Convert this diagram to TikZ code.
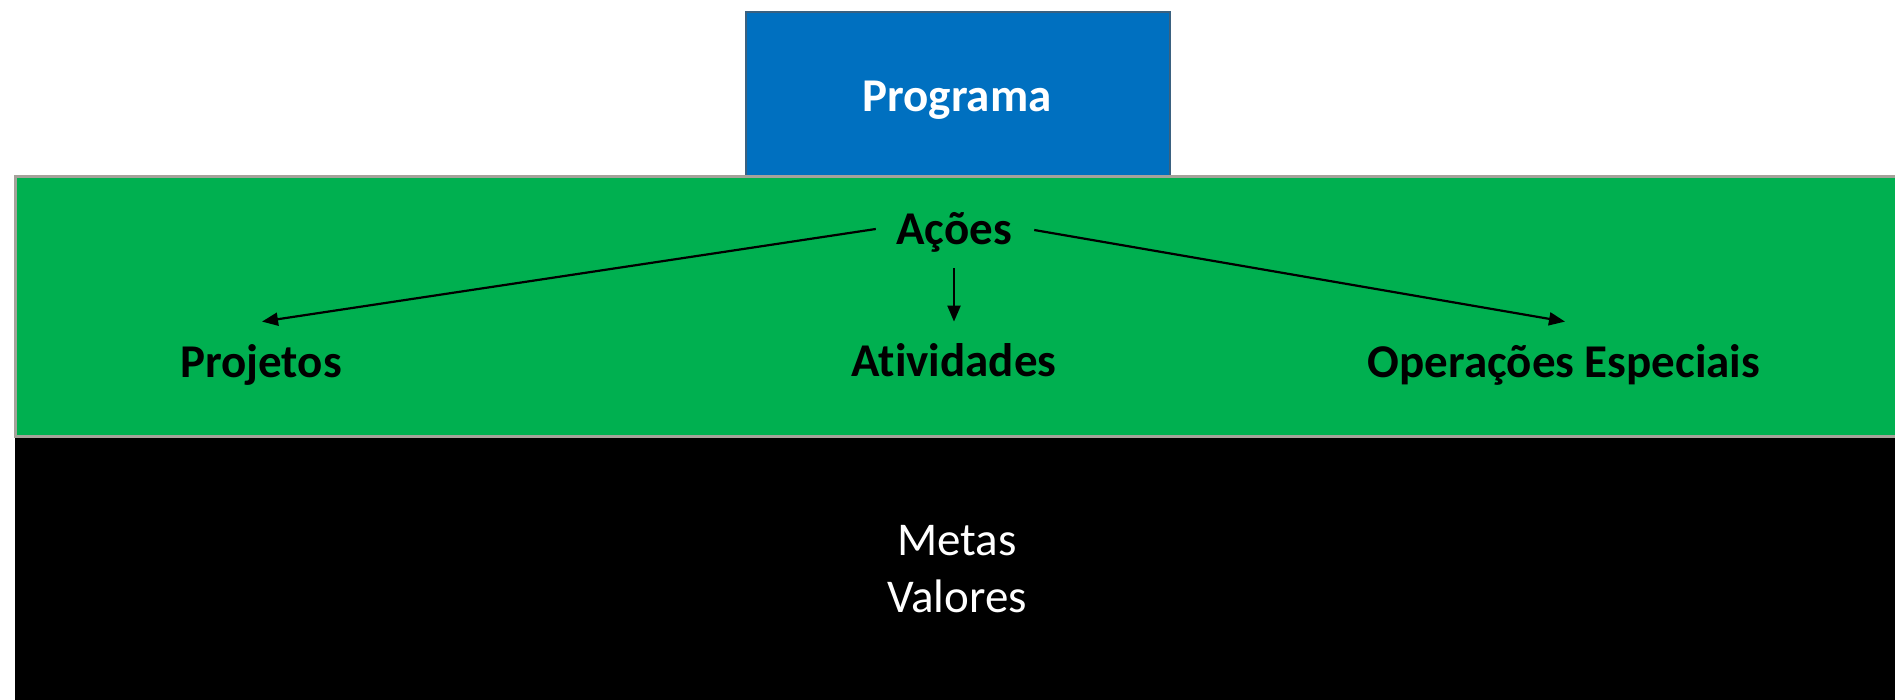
\documentclass[tikz,border=0pt]{standalone}
\usepackage{fontspec}
\setmainfont{Carlito}[Ligatures=NoCommon]
\usetikzlibrary{arrows.meta}
\definecolor{progblue}{HTML}{0070C0}
\definecolor{progedge}{HTML}{3A6180}
\definecolor{bandgreen}{HTML}{00B050}
\definecolor{bandedge}{HTML}{A5A29A}
\tikzset{
  boldlabel/.style={font=\fontsize{23.5}{28.5}\selectfont\bfseries, inner sep=0pt,
    text height=16pt, text depth=5pt, anchor=base},
  whitelabel/.style={boldlabel, text=white},
  plainlabel/.style={font=\fontsize{23.5}{28.5}\selectfont, text=white, align=center, inner sep=0pt},
  arr/.style={line width=1.1pt, -{Triangle[length=8pt,width=6.5pt]}},
}
\begin{document}
\begin{tikzpicture}[x=0.5pt,y=-0.5pt]
\useasboundingbox (0,0) rectangle (1895,700);
% black band
\fill[black] (15,437) rectangle (1900,700);
% programa box
\draw[fill=progblue, draw=progedge, line width=1pt] (746,12) rectangle (1170,178);
% green band
\draw[fill=bandgreen, draw=bandedge, line width=1.5pt] (15,177) rectangle (1910,436);
% texts
\node[whitelabel] (prog) at (957,112) {Programa};
\node[boldlabel] (acoes) at (954,245) {Ações};
\node[boldlabel] (proj) at (261,377) {Projetos};
\node[boldlabel] (ativ) at (954,376) {Atividades};
\node[boldlabel] (oper) at (1564,377) {Operações Especiais};
\node[plainlabel] (metas) at (957,569) {Metas\\Valores};
% arrows
\draw[arr] ([shift={(-20,-5)}]acoes.west) -- ([shift={(1,-23)}]proj.north);
\draw[arr] ([shift={(0,13)}]acoes.south) -- ([shift={(0,-22)}]ativ.north);
\draw[arr] ([shift={(22,-4)}]acoes.east) -- ([shift={(1,-23)}]oper.north);
\end{tikzpicture}
\end{document}
